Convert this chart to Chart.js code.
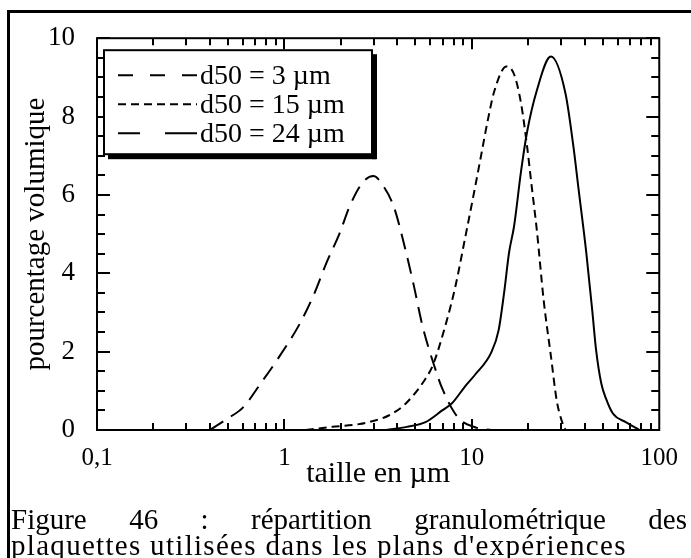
<!DOCTYPE html>
<html><head><meta charset="utf-8">
<script src="https://cdn.jsdelivr.net/npm/chart.js@4"></script>
<style>
html,body{margin:0;padding:0;background:#fff;}
#wrap{position:relative;width:691px;height:558px;overflow:hidden;background:#fff;}
canvas{position:absolute;left:0;top:0;}
#frame{position:absolute;left:7px;top:10px;width:700px;height:570px;border-top:3px solid #000;border-left:3px solid #000;pointer-events:none;}
.cap{position:absolute;left:11px;font-family:'Liberation Serif','Times New Roman',serif;font-size:29px;line-height:30px;color:#000;white-space:nowrap;}
#cap1{top:504px;width:676px;text-align:justify;text-align-last:justify;white-space:normal;}
#cap2{top:530px;letter-spacing:1.3px;}
</style></head>
<body><div id="wrap"><canvas id="c" width="691" height="558"></canvas><div id="frame"></div>
<div class="cap" id="cap1"></div><div class="cap" id="cap2"></div></div>
<script>
// ---- data ----
const seriesNames = ['d50 = 3 \u00b5m', 'd50 = 15 \u00b5m', 'd50 = 24 \u00b5m'];

const x3  = [0.40, 0.50, 0.60, 0.75, 0.92, 1.21, 1.44, 1.68, 1.97, 2.22, 2.6, 2.98, 3.4, 3.84, 4.33, 4.89, 5.46, 6.38, 6.95, 8.43, 10.4, 12.7];
const y3  = [0,    0.3,  0.57, 1.2,  1.81, 2.72, 3.47, 4.28, 5.02, 5.69, 6.3, 6.48, 6.2, 5.69, 4.78, 3.71, 2.65, 1.56, 1.06, 0.32, 0.07, 0];

const x15 = [1.3, 1.8, 2.5, 3.08, 3.6, 4.43, 5.66, 6.2, 7.21, 8.15, 9.19, 10.4, 11.3, 12.1, 13.2, 15.3, 16.8, 18.3, 19.7, 20.9, 22.2, 24.2, 26.4, 28.4, 30.1, 31.6];
const y15 = [0,   0.08, 0.15, 0.25, 0.37, 0.67, 1.31, 1.66, 2.65, 3.64, 4.88, 6.19, 7.1, 7.85, 8.66, 9.28, 9.08, 8.34, 7.25, 6.19, 5.12, 3.29, 1.9, 0.74, 0.25, 0];

const x24 = [3.5, 4.5, 5.66, 6.95, 7.86, 9.19, 10.4, 12.7, 13.9, 14.9, 15.8, 16.8, 18.3, 19.7, 22.2, 26.4, 31.6, 34.8, 37.0, 40.8, 44.0, 46.0, 49.0, 52.0, 56.6, 66.3, 78.5];
const y24 = [0,   0.08, 0.2, 0.5,  0.69, 1.11, 1.41, 1.98, 2.55, 3.54, 4.53, 5.2,  6.6,  7.6,  8.66, 9.53, 8.59, 7.25, 6.2,  4.53, 3.0,  2.05, 1.2,  0.8,  0.42, 0.2,  0];

const xTickValues = [0.1, 1, 10, 100];
const xTickLabels = ['0,1', '1', '10', '100'];
const yTickValues = [0, 2, 4, 6, 8, 10];

const xTitle = 'taille en \u00b5m';
const yTitle = 'pourcentage volumique';
const captionLines = ['Figure 46 : r\u00e9partition granulom\u00e9trique des', 'plaquettes utilis\u00e9es dans les plans d\'exp\u00e9riences'];

// ---- chart ----
document.getElementById('cap1').textContent = captionLines[0];
document.getElementById('cap2').textContent = captionLines[1];

const FONT = "'Liberation Serif','Times New Roman',serif";
Chart.defaults.font.family = FONT;
Chart.defaults.color = '#000';

const toPts = (xs, ys) => xs.map((x, i) => ({x: x, y: ys[i]}));

const frameTicks = {
  id: 'frameTicks',
  afterDatasetsDraw(chart) {
    const {ctx, chartArea: ca, scales} = chart;
    const xs = scales.x, ys = scales.y;
    ctx.save();
    ctx.strokeStyle = '#000';
    ctx.lineWidth = 2;
    ctx.setLineDash([]);
    ctx.strokeRect(ca.left, ca.top, ca.right - ca.left, ca.bottom - ca.top);
    ctx.beginPath();
    for (let v = 0; v <= 10.001; v += 0.5) {
      const py = Math.round(ys.getPixelForValue(v));
      const len = (Math.abs(v % 2) < 1e-6) ? 13 : 8;
      ctx.moveTo(ca.left, py); ctx.lineTo(ca.left + len, py);
      ctx.moveTo(ca.right, py); ctx.lineTo(ca.right - len, py);
    }
    [0.1, 1, 10].forEach(d => {
      for (let k = 1; k <= 9; k++) {
        const v = d * k;
        const px = Math.round(xs.getPixelForValue(v));
        const len = k === 1 ? 11 : 7;
        ctx.moveTo(px, ca.top); ctx.lineTo(px, ca.top + len);
        ctx.moveTo(px, ca.bottom); ctx.lineTo(px, ca.bottom - len);
      }
    });
    ctx.stroke();
    ctx.restore();
  }
};

const boxLegend = {
  id: 'boxLegend',
  afterDraw(chart) {
    const {ctx, chartArea: ca} = chart;
    const L = ca.left + 7, T = ca.top + 12, W = 268, H = 104;
    ctx.save();
    ctx.fillStyle = '#000';
    ctx.fillRect(L + 4, T + H, W, 5);
    ctx.fillRect(L + W, T + 4, 5, H + 1);
    ctx.fillStyle = '#fff';
    ctx.fillRect(L, T, W, H);
    ctx.strokeStyle = '#000';
    ctx.lineWidth = 2;
    ctx.strokeRect(L, T, W, H);
    ctx.font = '28px ' + FONT;
    ctx.textBaseline = 'alphabetic';
    ctx.fillStyle = '#000';
    chart.data.datasets.forEach((ds, i) => {
      const base = T + 34 + i * 29;
      const ly = base - 9;
      ctx.beginPath();
      ctx.setLineDash(ds.legendDash || []);
      ctx.lineWidth = 2;
      ctx.moveTo(L + 14, ly); ctx.lineTo(L + 93, ly);
      ctx.stroke();
      ctx.setLineDash([]);
      ctx.fillText(ds.label, L + 96, base);
    });
    ctx.restore();
  }
};

new Chart(document.getElementById('c'), {
  type: 'line',
  data: {
    datasets: [
      {label: seriesNames[0], data: toPts(x3, y3), borderColor: '#000', borderWidth: 2, borderDash: [16, 9], pointRadius: 0, cubicInterpolationMode: 'monotone', legendDash: [15, 17]},
      {label: seriesNames[1], data: toPts(x15, y15), borderColor: '#000', borderWidth: 2, borderDash: [8, 5], pointRadius: 0, cubicInterpolationMode: 'monotone', legendDash: [8, 5]},
      {label: seriesNames[2], data: toPts(x24, y24), borderColor: '#000', borderWidth: 2, pointRadius: 0, cubicInterpolationMode: 'monotone', legendDash: [22, 25, 32, 0]}
    ]
  },
  options: {
    responsive: false,
    animation: false,
    events: [],
    layout: {padding: {left: 0, right: 23, top: 26, bottom: 0}},
    plugins: {legend: {display: false}, tooltip: {enabled: false}},
    scales: {
      x: {
        type: 'logarithmic', min: 0.1, max: 100,
        grid: {display: false, drawTicks: false},
        border: {display: false},
        afterBuildTicks: s => { s.ticks = xTickValues.map(v => ({value: v})); },
        afterFit: s => { s.height = 128; },
        ticks: {
          autoSkip: false, maxRotation: 0, padding: 13,
          font: {size: 25},
          callback: (v) => { const i = xTickValues.findIndex(t => Math.abs(t - v) < 1e-9); return i >= 0 ? xTickLabels[i] : ''; }
        },
        title: {display: true, text: xTitle, font: {size: 30}, padding: {top: 0, bottom: 66}}
      },
      y: {
        min: 0, max: 10,
        grid: {display: false, drawTicks: false},
        border: {display: false},
        afterBuildTicks: s => { s.ticks = yTickValues.map(v => ({value: v})); },
        afterFit: s => { s.width = 97; },
        ticks: {padding: 22, font: {size: 27}},
        title: {display: true, text: yTitle, font: {size: 29}, padding: {top: 19, bottom: 0}}
      }
    }
  },
  plugins: [frameTicks, boxLegend]
});
</script>
</body></html>
